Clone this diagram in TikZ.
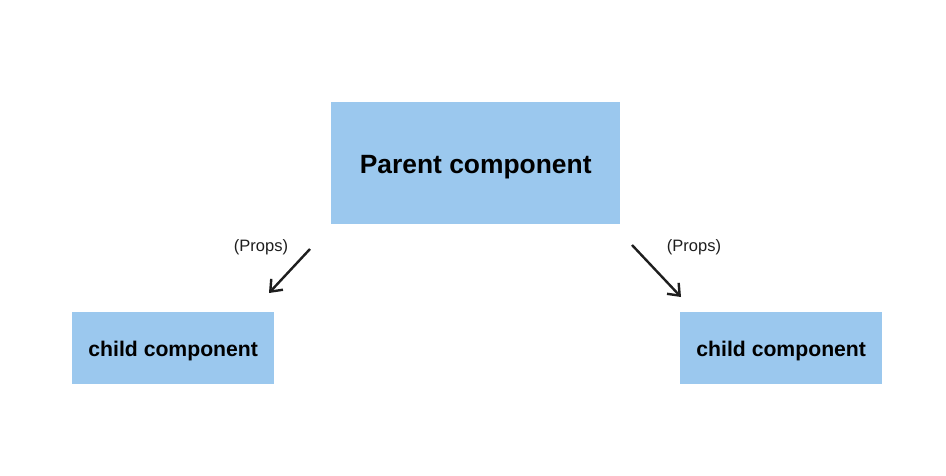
\documentclass[tikz,border=0pt]{standalone}
\usepackage{fontspec}
\setmainfont{Liberation Sans}
\usetikzlibrary{arrows.meta}
\definecolor{boxblue}{HTML}{9BC8EE}
\definecolor{ink}{HTML}{1E1E1E}
\begin{document}
\begin{tikzpicture}[x=1pt,y=-1pt,
  box/.style={fill=boxblue,draw=none,inner sep=0pt,anchor=north west},
  arr/.style={draw=ink,line width=2.4pt,-{Straight Barb[length=10pt,width=16pt,line width=2.4pt]}},
  lbl/.style={font=\fontsize{16.5}{18}\selectfont,text=ink,inner sep=0pt}]
\useasboundingbox[fill=white] (0,0) rectangle (946,475);
\node[box,minimum width=289pt,minimum height=122pt] (parent) at (331,102) {};
\node[font=\fontsize{26.4}{30}\selectfont\bfseries,yshift=-3.5pt] (ptext) at (parent.center) {Parent component};
\node[box,minimum width=202pt,minimum height=72pt] (childL) at (72,312) {};
\node[font=\fontsize{21.2}{24}\selectfont\bfseries,yshift=-2.5pt] (ltext) at (childL.center) {child component};
\node[box,minimum width=202pt,minimum height=72pt] (childR) at (680,312) {};
\node[font=\fontsize{21.2}{24}\selectfont\bfseries,yshift=-2.5pt] (rtext) at (childR.center) {child component};
\coordinate (a1s) at (310,249);
\coordinate (a1e) at (269,293);
\coordinate (a2s) at (632,245);
\coordinate (a2e) at (681,297);
\draw[arr] (a1s) -- (a1e);
\draw[arr] (a2s) -- (a2e);
\node[lbl] (p1) at (261,247) {(Props)};
\node[lbl] (p2) at (694,247) {(Props)};
\end{tikzpicture}
\end{document}
